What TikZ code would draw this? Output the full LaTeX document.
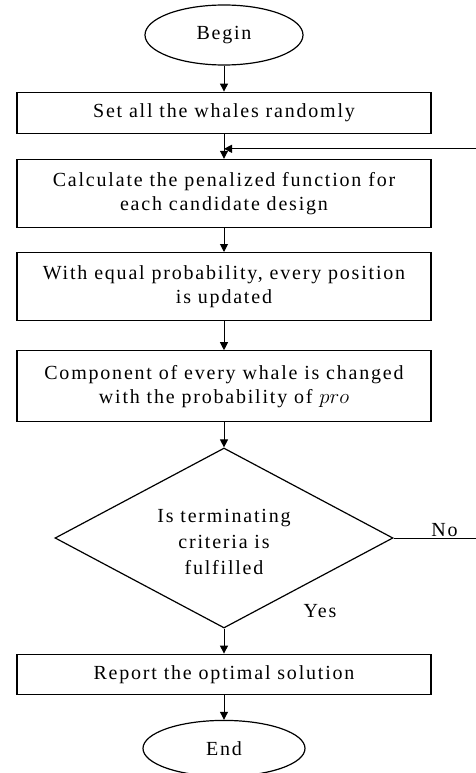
\documentclass[tikz,border=0pt]{standalone}
\usepackage{fontspec}
\setmainfont{Liberation Serif}[LetterSpace=9]
\usetikzlibrary{positioning, arrows.meta, shapes.geometric}

\begin{document}
\begin{tikzpicture}[
  x=1pt, y=1pt,
  node distance=25pt,
  every node/.style={font=\fontsize{20}{24}\selectfont},
  term/.style={ellipse, draw, line width=1.2pt, minimum width=158pt, minimum height=60pt, inner sep=0pt},
  proc/.style={rectangle, draw, line width=1.2pt, align=center, minimum width=414pt, inner sep=0pt},
  decide/.style={diamond, draw, line width=1.2pt, minimum width=338pt, minimum height=180pt, inner sep=0pt},
  arr/.style={-{Triangle[length=8pt,width=8pt]}, line width=1pt}
]
\useasboundingbox (0,0) rectangle (475,-773);
\node[term] (begin) at (224,-35) {Begin};
\node[proc, minimum height=41pt, below=26pt of begin] (init) {Set all the whales randomly};
\node[proc, minimum height=68pt, below=25pt of init] (fitness) {Calculate the penalized function for\\each candidate design};
\node[proc, minimum height=68pt, below=24pt of fitness] (update) {With equal probability, every position\\is updated};
\node[proc, minimum height=71pt, below=29pt of update] (mutate) {Component of every whale is changed\\with the probability of $pro$};
\node[decide, below=25pt of mutate] (check) {};
\node[align=center, font=\fontsize{20}{26}\selectfont, yshift=-4pt] (checktext) at (check) {Is terminating\\criteria is\\fulfilled};
\node[proc, minimum height=40pt, below=25pt of check] (report) {Report the optimal solution};
\node[term, minimum width=162pt, minimum height=56pt, below=25pt of report] (end) {End};
\node (yes) at ([xshift=96pt, yshift=18pt]check.south) {Yes};
\path (init.south) -- (fitness.north) coordinate[pos=0.6] (loopin);
\path (check.east) -- ++(86,0) coordinate (loopout);
\draw[arr] (begin) -- (init);
\draw[arr] (init) -- (fitness);
\draw[arr] (fitness) -- (update);
\draw[arr] (update) -- (mutate);
\draw[arr] (mutate) -- (check);
\draw[arr] (check) -- (report);
\draw[arr] (report) -- (end);
\draw[line width=1pt] (check.east) -- node[above, inner sep=1pt, xshift=8pt] {No} (loopout);
\draw[arr] (loopout) |- (loopin);
\end{tikzpicture}
\end{document}
